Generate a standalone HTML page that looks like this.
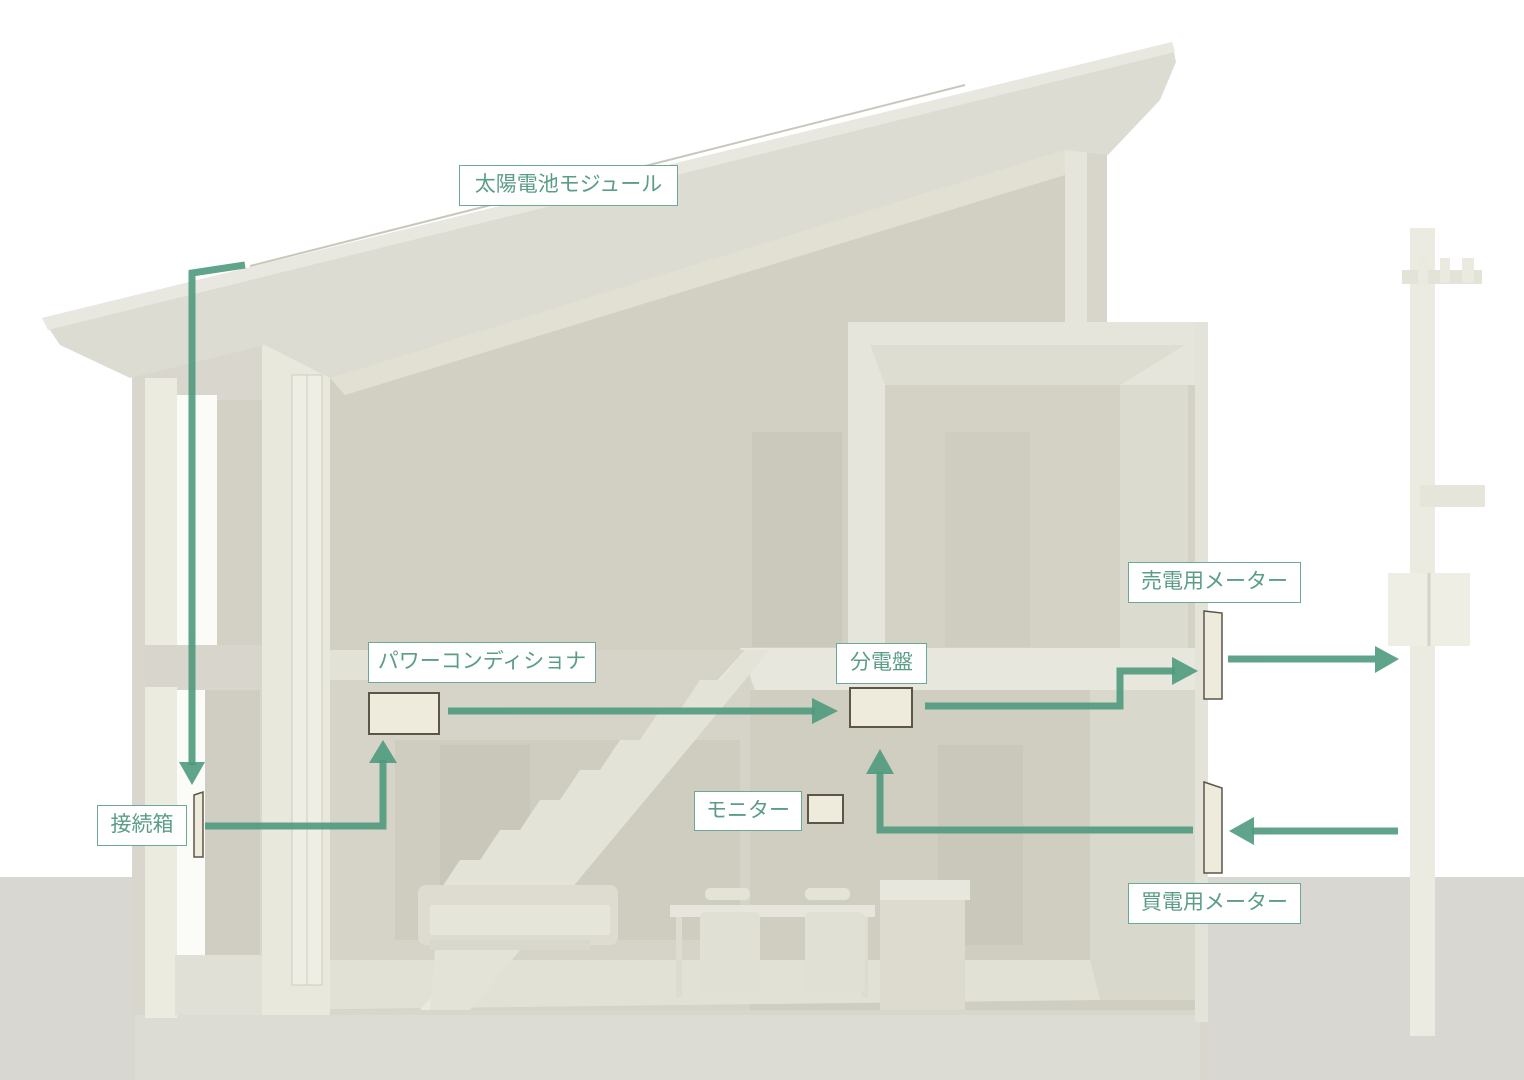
<!DOCTYPE html>
<html><head><meta charset="utf-8"><style>
html,body{margin:0;padding:0;background:#fff}
.w{position:relative;width:1524px;height:1080px;overflow:hidden;font-family:"Liberation Sans","Noto Sans CJK JP",sans-serif}
.lb{position:absolute;background:#fff;border:1px solid #6aaa94;color:#5b9d87;font-size:21px;line-height:38px;text-align:center;box-sizing:border-box;white-space:nowrap}
</style></head><body><div class="w">
<svg width="1524" height="1080" style="position:absolute;left:0;top:0">
<!-- ground -->
<rect x="0" y="877" width="1524" height="203" fill="#d8d7d1"/>
<!-- house body base -->
<rect x="132" y="340" width="1076" height="740" fill="#d9d7cd"/>
<!-- foundation -->
<rect x="135" y="1015" width="1065" height="65" fill="#dcdbd4"/>
<!-- tall interior back wall -->
<polygon points="330,378 1065,150 1065,322 848,322 848,650 330,650" fill="#d2d0c3"/>
<polygon points="330,378 1065,150 1065,175 345,395" fill="#e2e0d3"/>
<!-- right column above upper room -->
<rect x="1065" y="150" width="22" height="175" fill="#e6e5dc"/>
<rect x="1087" y="150" width="20" height="175" fill="#d8d6cb"/>
<!-- upper room -->
<rect x="848" y="322" width="360" height="330" fill="#e6e5dc"/>
<rect x="885" y="385" width="310" height="265" fill="#d4d2c5"/>
<polygon points="870,345 1185,345 1120,385 885,385" fill="#deddd2"/>
<rect x="945" y="432" width="85" height="215" fill="#cfcdc0"/>
<rect x="1120" y="385" width="68" height="265" fill="#dcdbd0"/>
<rect x="752" y="432" width="90" height="215" fill="#cbc9bc"/>
<!-- floor slab -->
<polygon points="740,648 1195,648 1195,690 755,690" fill="#e8e7de"/>
<!-- lower right room -->
<rect x="690" y="690" width="518" height="320" fill="#d0cec1"/>
<rect x="1090" y="690" width="105" height="310" fill="#d9d8cd"/>
<rect x="938" y="745" width="85" height="200" fill="#cac8bb"/>
<!-- lower left big space -->
<rect x="330" y="650" width="420" height="360" fill="#d6d4c8"/>
<rect x="395" y="740" width="345" height="200" fill="#cfcdc0"/>
<rect x="440" y="745" width="90" height="195" fill="#c9c7ba"/>
<!-- floor -->
<polygon points="270,960 1090,960 1100,1000 270,1010" fill="#e2e1d6"/>
<!-- stairs -->
<polygon points="745,650 770,650 470,1010 420,1010" fill="#ebeadf"/>
<polygon points="745,650 720,680 700,680 680,710 660,710 640,740 620,740 600,770 580,770 560,800 540,800 520,830 500,830 480,860 460,860 440,890 430,1010 470,1010 770,650" fill="#e4e3d8"/>
<!-- sofa -->
<rect x="418" y="885" width="200" height="60" rx="8" fill="#dedcd0"/>
<rect x="430" y="905" width="180" height="30" fill="#e6e5da"/>
<rect x="430" y="940" width="160" height="10" fill="#d9d8cc"/>
<!-- table + chairs -->
<rect x="670" y="905" width="205" height="12" fill="#e7e6dc"/>
<rect x="676" y="917" width="6" height="80" fill="#dedcd1"/>
<rect x="862" y="917" width="6" height="80" fill="#dedcd1"/>
<rect x="700" y="912" width="60" height="80" rx="6" fill="#e1e0d5"/>
<rect x="805" y="912" width="60" height="80" rx="6" fill="#e1e0d5"/>
<rect x="705" y="888" width="45" height="12" rx="5" fill="#e4e3d8"/>
<rect x="805" y="888" width="45" height="12" rx="5" fill="#e4e3d8"/>
<!-- kitchen -->
<rect x="880" y="880" width="90" height="20" fill="#e8e7dd"/>
<rect x="880" y="900" width="85" height="110" fill="#dddbd0"/>
<!-- left outer columns -->
<rect x="145" y="378" width="32" height="640" fill="#ecebe0"/>
<rect x="177" y="395" width="40" height="250" fill="#fbfbf8"/>
<rect x="217" y="400" width="45" height="245" fill="#d3d1c5"/>
<rect x="145" y="645" width="120" height="42" fill="#d8d6cc"/>
<rect x="177" y="690" width="28" height="265" fill="#fbfbf8"/>
<rect x="205" y="690" width="55" height="265" fill="#d0cec2"/>
<rect x="175" y="955" width="90" height="60" fill="#e1e0d6"/>
<!-- tall column with window -->
<rect x="262" y="345" width="68" height="670" fill="#e9e8dc"/>
<rect x="292" y="375" width="30" height="610" fill="#efeee5" stroke="#cfcdc1"/>
<line x1="307" y1="375" x2="307" y2="985" stroke="#cfcdc1"/>
<rect x="330" y="650" width="65" height="30" fill="#e3e2d7"/>
<!-- roof -->
<polygon points="42,318 1172,42 1176,62 1160,100 1108,155 1065,150 330,378 265,345 130,378 60,345" fill="#dddcd2"/>
<polygon points="42,318 1172,42 1175,52 48,330" fill="#e8e7e0"/>
<line x1="250" y1="266" x2="965" y2="85" stroke="#c9c7bd" stroke-width="2"/>
<!-- right wall edge -->
<rect x="1195" y="322" width="13" height="700" fill="#e4e3da"/>
<!-- pole -->
<rect x="1410" y="228" width="25" height="808" fill="#ecebe1"/>
<rect x="1402" y="270" width="80" height="14" fill="#e4e3d8"/>
<rect x="1418" y="255" width="10" height="30" fill="#ebeae0"/>
<rect x="1440" y="258" width="10" height="25" fill="#ebeae0"/>
<rect x="1462" y="258" width="12" height="25" fill="#ebeae0"/>
<rect x="1420" y="485" width="65" height="22" fill="#e6e5da"/>
<rect x="1388" y="573" width="82" height="73" fill="#eeeee4"/>
<line x1="1429" y1="573" x2="1429" y2="646" stroke="#d5d4c9" stroke-width="3"/>
<!-- devices -->
<rect x="369" y="693" width="70" height="41" fill="#efebdc" stroke="#5c5648" stroke-width="2"/>
<rect x="850" y="688" width="62" height="39" fill="#efebdc" stroke="#5c5648" stroke-width="2"/>
<rect x="808" y="795" width="35" height="28" fill="#efebdc" stroke="#5c5648" stroke-width="2"/>
<polygon points="1204,611 1222,613 1222,699 1204,699" fill="#efebdc" stroke="#5c5648" stroke-width="1.5"/>
<polygon points="1204,782 1222,788 1222,873 1204,873" fill="#efebdc" stroke="#5c5648" stroke-width="1.5"/>
<polygon points="194,795 203,792 203,857 194,857" fill="#efebdc" stroke="#5c5648" stroke-width="1.5"/>
<!-- arrows -->
<g fill="none" stroke="#4f9a7e" stroke-width="7" opacity="0.9">
<polyline points="245,265 192,273 192,765"/>
<polyline points="205,826 383,826 383,760"/>
<line x1="448" y1="711" x2="815" y2="711"/>
<polyline points="925,706 1120,706 1120,671 1175,671"/>
<line x1="1228" y1="659" x2="1375" y2="659"/>
<line x1="1398" y1="831" x2="1252" y2="831"/>
<polyline points="1193,830 880,830 880,772"/>
</g>
<g fill="#4f9a7e" opacity="0.9">
<polygon points="179,762 205,762 192,785"/>
<polygon points="369,763 397,763 383,740"/>
<polygon points="812,698 812,724 838,711"/>
<polygon points="1172,657 1172,685 1198,671"/>
<polygon points="1375,646 1375,673 1399,659"/>
<polygon points="1254,817 1254,845 1229,831"/>
<polygon points="866,774 894,774 880,749"/>
</g>
</svg>
<div class="lb" style="left:459px;top:165px;width:219px;height:41px">太陽電池モジュール</div>
<div class="lb" style="left:368px;top:642px;width:228px;height:41px">パワーコンディショナ</div>
<div class="lb" style="left:836px;top:643px;width:91px;height:41px">分電盤</div>
<div class="lb" style="left:1128px;top:562px;width:173px;height:41px">売電用メーター</div>
<div class="lb" style="left:97px;top:805px;width:90px;height:41px">接続箱</div>
<div class="lb" style="left:694px;top:791px;width:108px;height:40px">モニター</div>
<div class="lb" style="left:1128px;top:883px;width:173px;height:41px">買電用メーター</div>
</div></body></html>
